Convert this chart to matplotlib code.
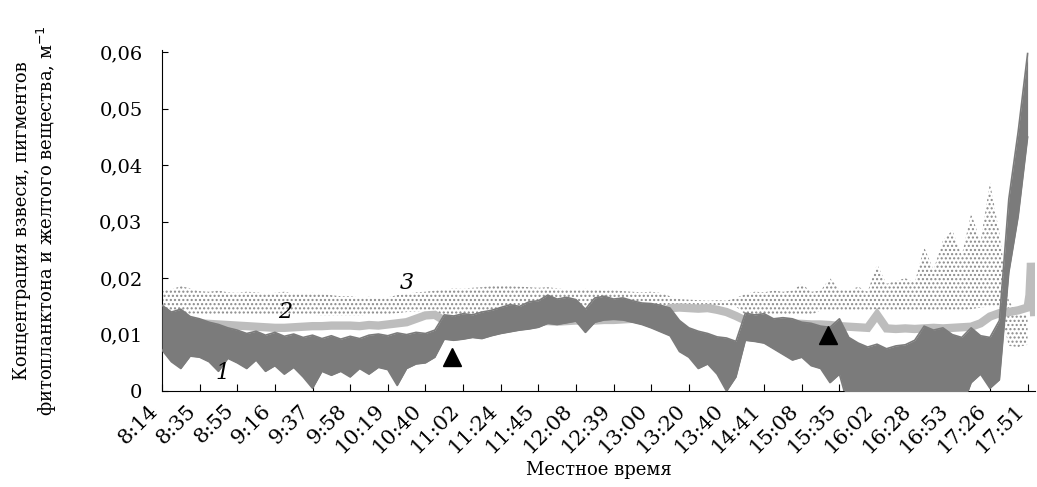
import numpy as np
import matplotlib.pyplot as plt

plt.rcParams['font.family'] = ['DejaVu Serif']
plt.rcParams['hatch.linewidth'] = 1.0

# подписи оси X (местное время), равномерно по делениям
time_labels = ['8:14', '8:35', '8:55', '9:16', '9:37', '9:58', '10:19', '10:40',
               '11:02', '11:24', '11:45', '12:08', '12:39', '13:00', '13:20', '13:40',
               '14:41', '15:08', '15:35', '16:02', '16:28', '16:53', '17:26', '17:51']

# положение отсчётов в делениях шкалы (шаг 1/4 деления)
pos = np.arange(0, 23.001, 0.25)

# 1 - взвесь: верхняя и нижняя огибающая шумного сигнала
s1_top = [0.0152, 0.0140, 0.0145, 0.0132,
          0.0128, 0.0122, 0.0118, 0.0112,
          0.0108, 0.0102, 0.0106, 0.0099,
          0.0104, 0.0097, 0.0101, 0.0095,
          0.0099, 0.0093, 0.0098, 0.0092,
          0.0097, 0.0093, 0.0099, 0.0101,
          0.0098, 0.0103, 0.0100, 0.0104,
          0.0102, 0.0108, 0.0135, 0.0133,
          0.0137, 0.0135, 0.0140, 0.0143,
          0.0148, 0.0153, 0.0150, 0.0158,
          0.0160, 0.0170, 0.0163, 0.0166,
          0.0162, 0.0145, 0.0165, 0.0168,
          0.0163, 0.0165, 0.0160, 0.0156,
          0.0155, 0.0152, 0.0147, 0.0125,
          0.0112, 0.0106, 0.0102, 0.0096,
          0.0094, 0.0088, 0.0138, 0.0135,
          0.0137, 0.0128, 0.0130, 0.0128,
          0.0122, 0.0120, 0.0115, 0.0113,
          0.0128, 0.0095, 0.0085, 0.0078,
          0.0083, 0.0075, 0.0080, 0.0082,
          0.0090, 0.0115, 0.0108, 0.0112,
          0.0100, 0.0095, 0.0112, 0.0098,
          0.0095, 0.0125, 0.0340, 0.0460,
          0.0598]
s1_bottom = [0.0073, 0.0052, 0.0040, 0.0062,
             0.0060, 0.0052, 0.0035, 0.0058,
             0.0050, 0.0040, 0.0055, 0.0035,
             0.0045, 0.0030, 0.0042, 0.0025,
             0.0005, 0.0035, 0.0028, 0.0035,
             0.0025, 0.0040, 0.0030, 0.0042,
             0.0038, 0.0010, 0.0040, 0.0048,
             0.0050, 0.0060, 0.0092, 0.0090,
             0.0092, 0.0095, 0.0093, 0.0098,
             0.0102, 0.0105, 0.0108, 0.0110,
             0.0113, 0.0120, 0.0118, 0.0121,
             0.0124, 0.0104, 0.0122, 0.0126,
             0.0127, 0.0126, 0.0122, 0.0118,
             0.0112, 0.0105, 0.0098, 0.0070,
             0.0060, 0.0040, 0.0048, 0.0030,
             0.0000, 0.0025, 0.0090, 0.0088,
             0.0085, 0.0075, 0.0065, 0.0055,
             0.0060, 0.0045, 0.0040, 0.0015,
             0.0030, -0.003, -0.003, -0.003,
             -0.003, -0.003, -0.003, -0.003,
             -0.003, -0.003, -0.003, -0.003,
             -0.003, -0.003, 0.0015, 0.0030,
             0.0005, 0.0020, 0.0210, 0.0310,
             0.0450]

# 2 - пигменты фитопланктона
s2 = [0.0122, 0.0122, 0.0121, 0.0120,
      0.0120, 0.0119, 0.0118, 0.0117,
      0.0116, 0.0115, 0.0114, 0.0113,
      0.0112, 0.0112, 0.0113, 0.0114,
      0.0115, 0.0115, 0.0116, 0.0116,
      0.0116, 0.0115, 0.0117, 0.0116,
      0.0118, 0.0120, 0.0122, 0.0128,
      0.0134, 0.0135, 0.0125, 0.0122,
      0.0120, 0.0120, 0.0121, 0.0121,
      0.0121, 0.0122, 0.0122, 0.0122,
      0.0123, 0.0124, 0.0123, 0.0124,
      0.0125, 0.0124, 0.0125, 0.0126,
      0.0126, 0.0127, 0.0128, 0.0130,
      0.0133, 0.0138, 0.0147, 0.0148,
      0.0147, 0.0146, 0.0147, 0.0144,
      0.0140, 0.0133, 0.0125, 0.0122,
      0.0121, 0.0120, 0.0120, 0.0119,
      0.0119, 0.0118, 0.0118, 0.0117,
      0.0115, 0.0114, 0.0113, 0.0112,
      0.0135, 0.0111, 0.0110, 0.0111,
      0.0110, 0.0111, 0.0112, 0.0111,
      0.0112, 0.0113, 0.0114, 0.0120,
      0.0132, 0.0138, 0.0140, 0.0143,
      0.0148]
s2_tail_pos = [23.05, 23.09, 23.13, 23.17]
s2_tail = [0.0170, 0.0227, 0.0195, 0.0140]

# 3 - желтое вещество (разброс значений)
s3_top = [0.0178, 0.0180, 0.0186, 0.0182,
          0.0177, 0.0176, 0.0178, 0.0175,
          0.0174, 0.0176, 0.0175, 0.0173,
          0.0174, 0.0176, 0.0173, 0.0172,
          0.0174, 0.0172, 0.0170, 0.0168,
          0.0168, 0.0166, 0.0167, 0.0165,
          0.0166, 0.0170, 0.0172, 0.0175,
          0.0176, 0.0178, 0.0180, 0.0182,
          0.0181, 0.0183, 0.0184, 0.0186,
          0.0187, 0.0186, 0.0185, 0.0184,
          0.0183, 0.0184, 0.0182, 0.0180,
          0.0179, 0.0181, 0.0180, 0.0178,
          0.0179, 0.0177, 0.0176, 0.0175,
          0.0176, 0.0174, 0.0168, 0.0163,
          0.0162, 0.0161, 0.0160, 0.0161,
          0.0160, 0.0165, 0.0172, 0.0176,
          0.0175, 0.0178, 0.0176, 0.0178,
          0.0190, 0.0176, 0.0178, 0.0200,
          0.0180, 0.0178, 0.0185, 0.0176,
          0.0225, 0.0190, 0.0195, 0.0200,
          0.0192, 0.0255, 0.0215, 0.0267,
          0.0285, 0.0240, 0.0315, 0.0265,
          0.0370, 0.0280, 0.0160, 0.0135,
          0.0135]
s3_bottom = [0.0137, 0.0137, 0.0137, 0.0137,
             0.0137, 0.0136, 0.0137, 0.0136,
             0.0136, 0.0137, 0.0136, 0.0135,
             0.0135, 0.0135, 0.0135, 0.0135,
             0.0135, 0.0134, 0.0134, 0.0134,
             0.0134, 0.0134, 0.0135, 0.0135,
             0.0136, 0.0138, 0.0140, 0.0141,
             0.0142, 0.0143, 0.0130, 0.0130,
             0.0130, 0.0130, 0.0130, 0.0130,
             0.0130, 0.0130, 0.0130, 0.0130,
             0.0130, 0.0130, 0.0130, 0.0130,
             0.0130, 0.0130, 0.0130, 0.0130,
             0.0130, 0.0130, 0.0130, 0.0130,
             0.0130, 0.0130, 0.0152, 0.0152,
             0.0152, 0.0152, 0.0152, 0.0152,
             0.0152, 0.0150, 0.0135, 0.0135,
             0.0135, 0.0135, 0.0135, 0.0135,
             0.0135, 0.0135, 0.0143, 0.0143,
             0.0143, 0.0143, 0.0143, 0.0143,
             0.0145, 0.0143, 0.0143, 0.0143,
             0.0143, 0.0143, 0.0143, 0.0143,
             0.0143, 0.0143, 0.0145, 0.0148,
             0.0150, 0.0150, 0.0080, 0.0078,
             0.0082]

# моменты, отмеченные треугольниками
marker_pos = [7.71, 17.69]
marker_val = [0.0060, 0.0099]

dark = '#7b7b7b'
light = '#bdbdbd'

fig = plt.figure(figsize=(10.37, 4.87), dpi=100)
ax = fig.add_axes([0.1562, 0.197, 0.842, 0.700])

ax.fill_between(pos, s3_bottom, s3_top, facecolor='none', edgecolor='#8a8a8a',
                hatch='....', linewidth=0, zorder=1)
ax.plot(np.concatenate([pos, s2_tail_pos]), np.concatenate([s2, s2_tail]),
        color=light, lw=6, solid_joinstyle='miter', zorder=2)
ax.fill_between(pos, s1_bottom, s1_top, color=dark, linewidth=0, zorder=3)
ax.plot(pos, s1_top, color=dark, lw=1.2, zorder=3)
ax.plot(pos, s1_bottom, color=dark, lw=1.2, zorder=3)
ax.plot(marker_pos, marker_val, 'k^', ms=13, zorder=5)

ax.text(1.6, 0.0032, '1', fontsize=16, style='italic', ha='center', va='center')
ax.text(3.28, 0.0140, '2', fontsize=16, style='italic', ha='center', va='center')
ax.text(6.5, 0.0191, '3', fontsize=16, style='italic', ha='center', va='center')

ax.set_xlim(0, 23.2)
ax.set_ylim(0, 0.0604)
ax.set_xticks(range(len(time_labels)))
ax.set_xticklabels(time_labels, rotation=45, ha='right', fontsize=15)
ax.set_yticks([0, 0.01, 0.02, 0.03, 0.04, 0.05, 0.06])
ax.set_yticklabels(['0', '0,01', '0,02', '0,03', '0,04', '0,05', '0,06'], fontsize=14)
ax.tick_params(axis='x', direction='in', length=5, pad=7)
ax.tick_params(axis='y', direction='in', length=4, pad=14)
for side in ['top', 'right']:
    ax.spines[side].set_visible(False)

ax.set_xlabel('Местное время', fontsize=13)
ax.xaxis.set_label_coords(0.5, -0.205)
ax.set_ylabel('Концентрация взвеси, пигментов\nфитопланктона и желтого вещества, м$^{-1}$',
              fontsize=13, labelpad=29)

fig.savefig('out.png', dpi=100)
